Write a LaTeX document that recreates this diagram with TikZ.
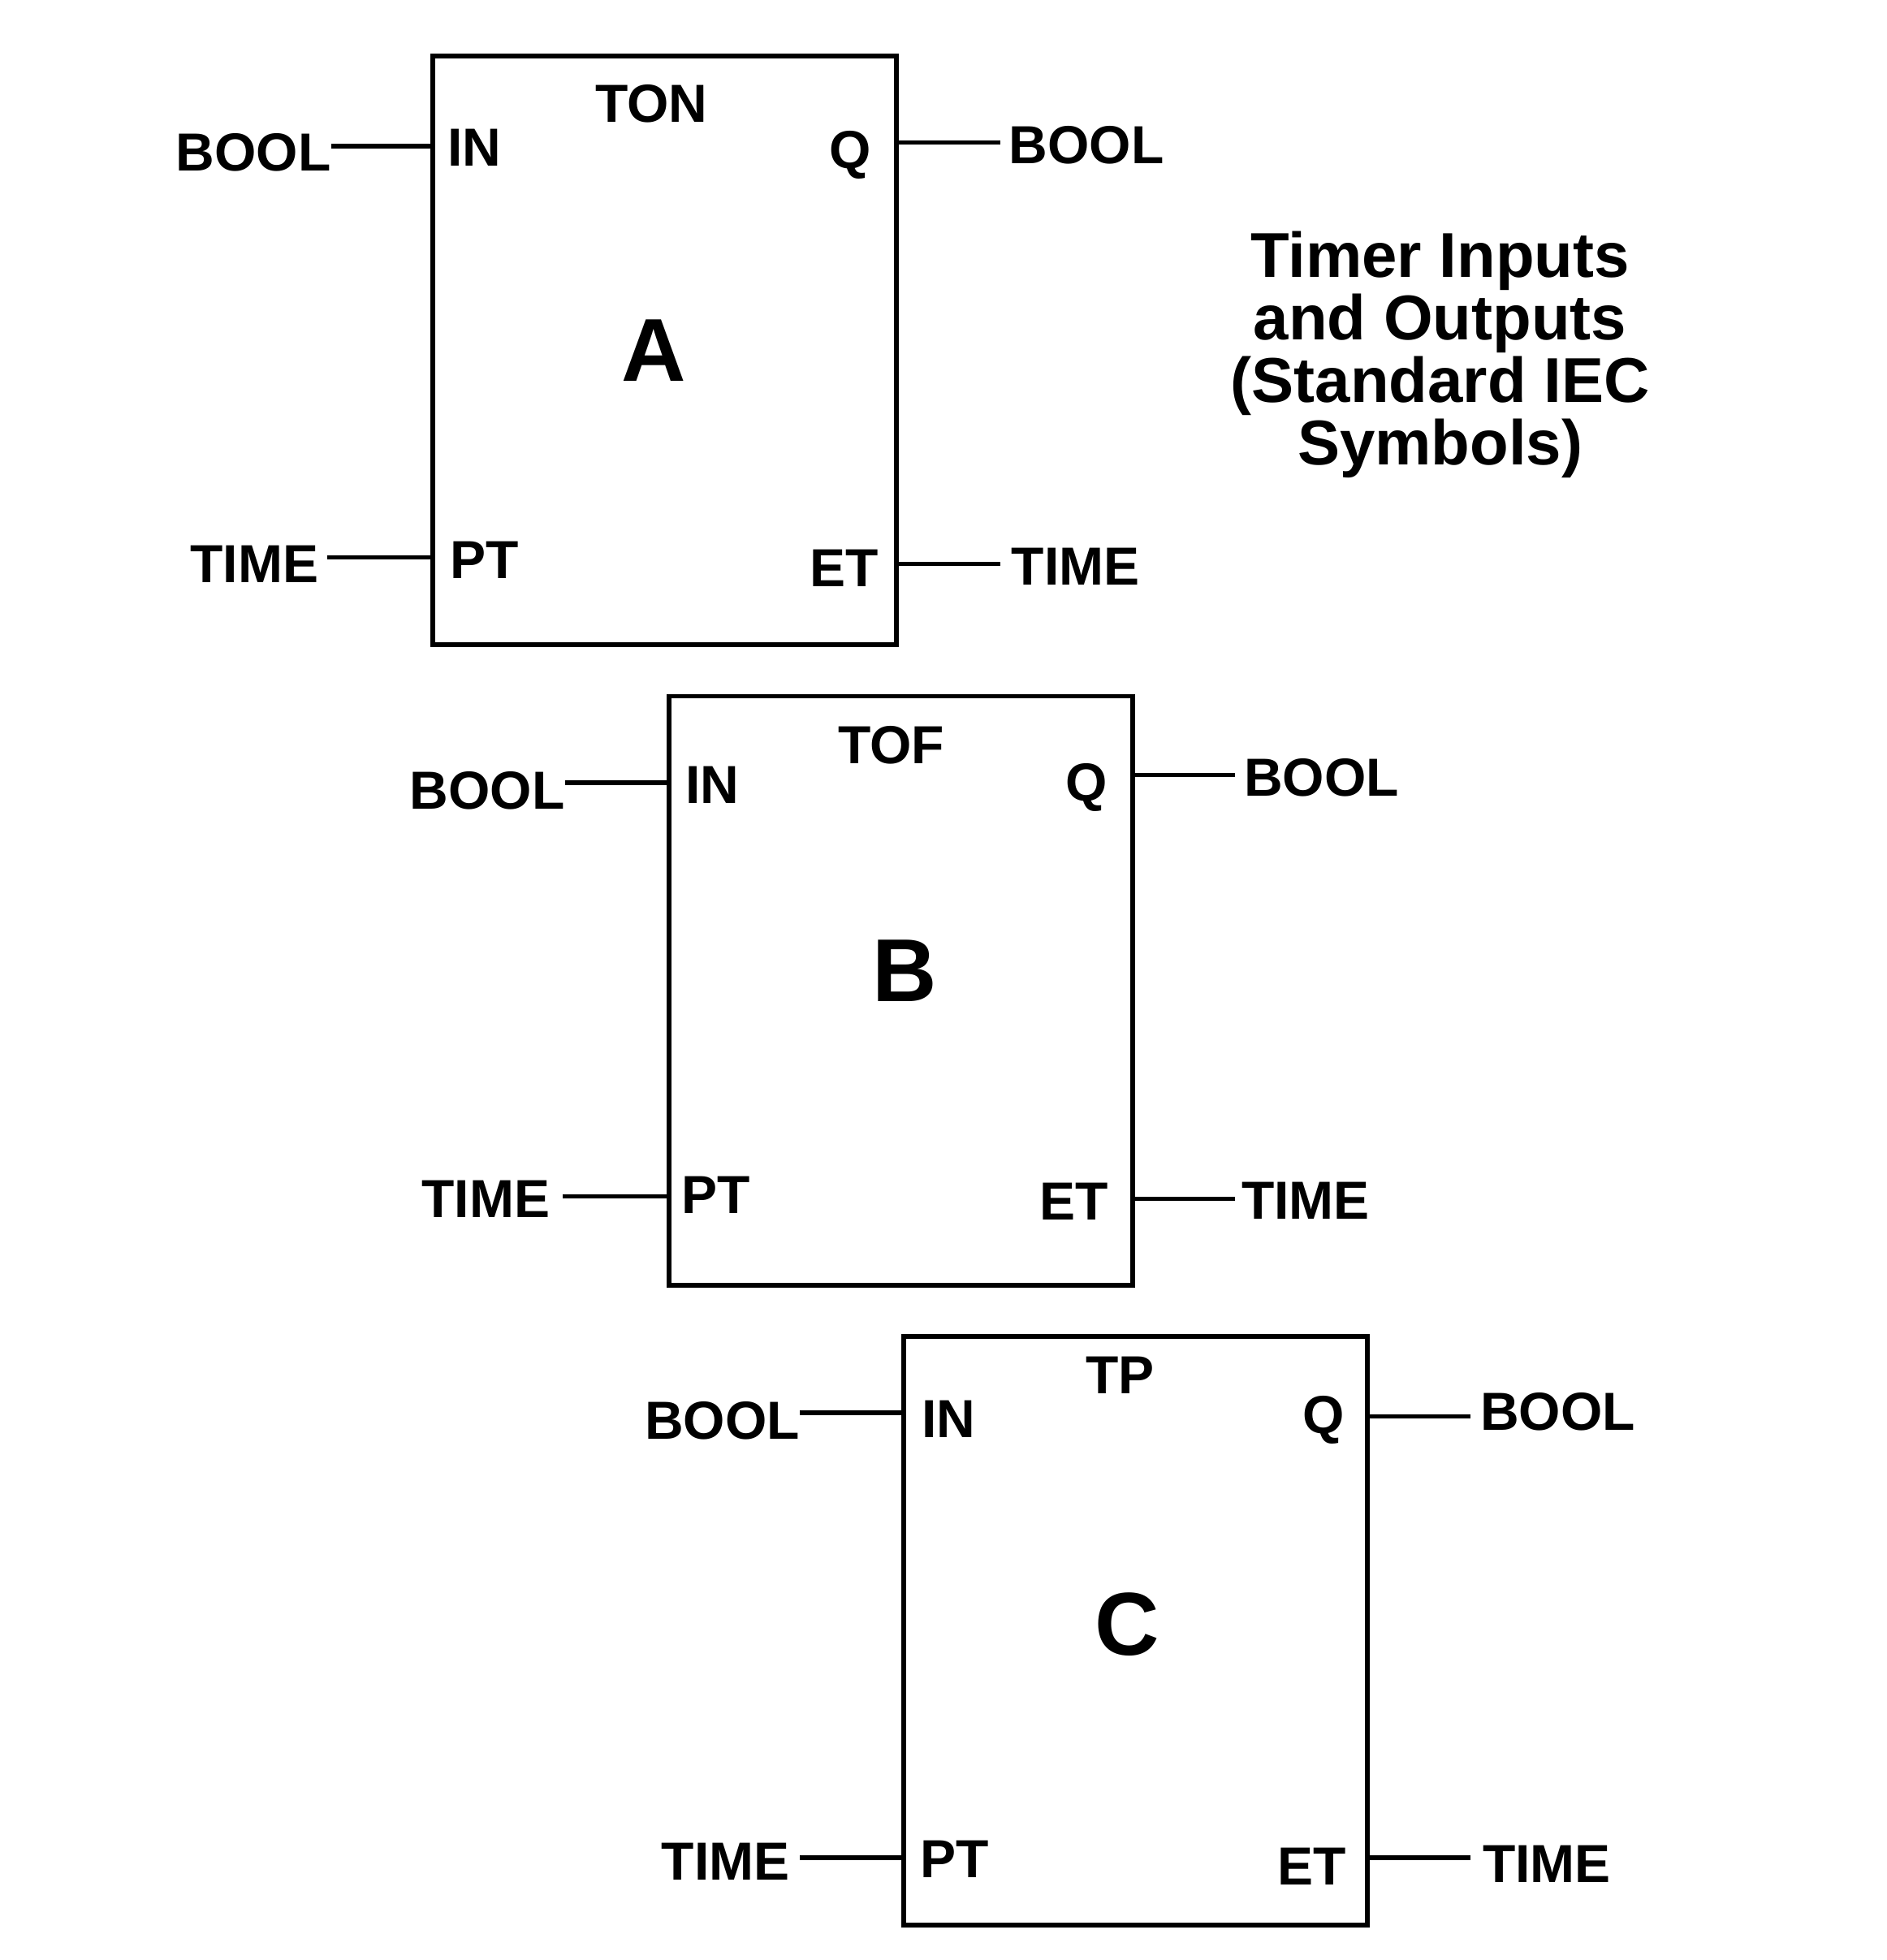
\documentclass[tikz,border=0pt]{standalone}
\usepackage{fontspec}
\setmainfont{Liberation Sans}
\begin{document}
\begin{tikzpicture}[x=0.7697pt,y=-0.7697pt,
  lbl/.style={font=\fontsize{33}{38}\selectfont\bfseries, inner sep=0pt},
  big/.style={font=\fontsize{55}{60}\selectfont\bfseries, inner sep=0pt, anchor=base},
  ttl/.style={font=\fontsize{39}{45}\selectfont\bfseries, inner sep=0pt, anchor=base},
  fbox/.style={draw, line width=2.9pt, inner sep=0pt, minimum width=285.6pt, minimum height=362.5pt},
  wire/.style={line width=2.8pt}]
\useasboundingbox (0,0) rectangle (1509,1568);
% ---------- boxes
\node[fbox] (boxA) at (531.5,280.5) {};
\node[fbox] (boxB) at (720.5,792.5) {};
\node[fbox] (boxC) at (908.5,1304.5) {};
% ---------- title
\node[ttl] (t1) at (1152,222) {Timer Inputs};
\node[ttl] (t2) at (1152,272) {and Outputs};
\node[ttl] (t3) at (1152,322) {(Standard IEC};
\node[ttl] (t4) at (1152,372) {Symbols)};
% ---------- box A
\node[lbl,anchor=base] (A-name) at (521,98) {TON};
\node[big] (A-let) at (523,305) {A};
\node[lbl,anchor=base west] (A-IN) at (358,133) {IN};
\node[lbl,anchor=base west] (A-PT) at (360,463) {PT};
\node[lbl,anchor=base east] (A-Q) at (697,135) {Q};
\node[lbl,anchor=base east] (A-ET) at (703,469) {ET};
\coordinate (A-in) at (265,117);
\coordinate (A-pt) at (262,446);
\coordinate (A-q) at (800,114);
\coordinate (A-et) at (800,451);
\node[lbl,anchor=base east] (A-bool1) at (265,137) {BOOL};
\node[lbl,anchor=base east] (A-time1) at (255,466) {TIME};
\node[lbl,anchor=base west] (A-bool2) at (807,131) {BOOL};
\node[lbl,anchor=base west] (A-time2) at (809,468) {TIME};
\draw[wire] (A-in) -- (A-in -| boxA.west);
\draw[wire] (A-pt) -- (A-pt -| boxA.west);
\draw[wire] (A-q -| boxA.east) -- (A-q);
\draw[wire] (A-et -| boxA.east) -- (A-et);
% ---------- box B
\node[lbl,anchor=base] (B-name) at (713,611) {TOF};
\node[big] (B-let) at (724,801) {B};
\node[lbl,anchor=base west] (B-IN) at (548,643) {IN};
\node[lbl,anchor=base west] (B-PT) at (545,971) {PT};
\node[lbl,anchor=base east] (B-Q) at (886,641) {Q};
\node[lbl,anchor=base east] (B-ET) at (887,976) {ET};
\coordinate (B-in) at (452,626);
\coordinate (B-pt) at (450,957);
\coordinate (B-q) at (988,620);
\coordinate (B-et) at (988,959);
\node[lbl,anchor=base east] (B-bool1) at (452,647) {BOOL};
\node[lbl,anchor=base east] (B-time1) at (440,974) {TIME};
\node[lbl,anchor=base west] (B-bool2) at (995,637) {BOOL};
\node[lbl,anchor=base west] (B-time2) at (993,975) {TIME};
\draw[wire] (B-in) -- (B-in -| boxB.west);
\draw[wire] (B-pt) -- (B-pt -| boxB.west);
\draw[wire] (B-q -| boxB.east) -- (B-q);
\draw[wire] (B-et -| boxB.east) -- (B-et);
% ---------- box C
\node[lbl,anchor=base] (C-name) at (896,1115) {TP};
\node[big] (C-let) at (902,1324) {C};
\node[lbl,anchor=base west] (C-IN) at (737,1150) {IN};
\node[lbl,anchor=base west] (C-PT) at (736,1502) {PT};
\node[lbl,anchor=base east] (C-Q) at (1076,1147) {Q};
\node[lbl,anchor=base east] (C-ET) at (1077,1508) {ET};
\coordinate (C-in) at (640,1130);
\coordinate (C-pt) at (640,1486);
\coordinate (C-q) at (1176,1133);
\coordinate (C-et) at (1176,1486);
\node[lbl,anchor=base east] (C-bool1) at (640,1151) {BOOL};
\node[lbl,anchor=base east] (C-time1) at (632,1504) {TIME};
\node[lbl,anchor=base west] (C-bool2) at (1184,1144) {BOOL};
\node[lbl,anchor=base west] (C-time2) at (1186,1506) {TIME};
\draw[wire] (C-in) -- (C-in -| boxC.west);
\draw[wire] (C-pt) -- (C-pt -| boxC.west);
\draw[wire] (C-q -| boxC.east) -- (C-q);
\draw[wire] (C-et -| boxC.east) -- (C-et);
\end{tikzpicture}
\end{document}
